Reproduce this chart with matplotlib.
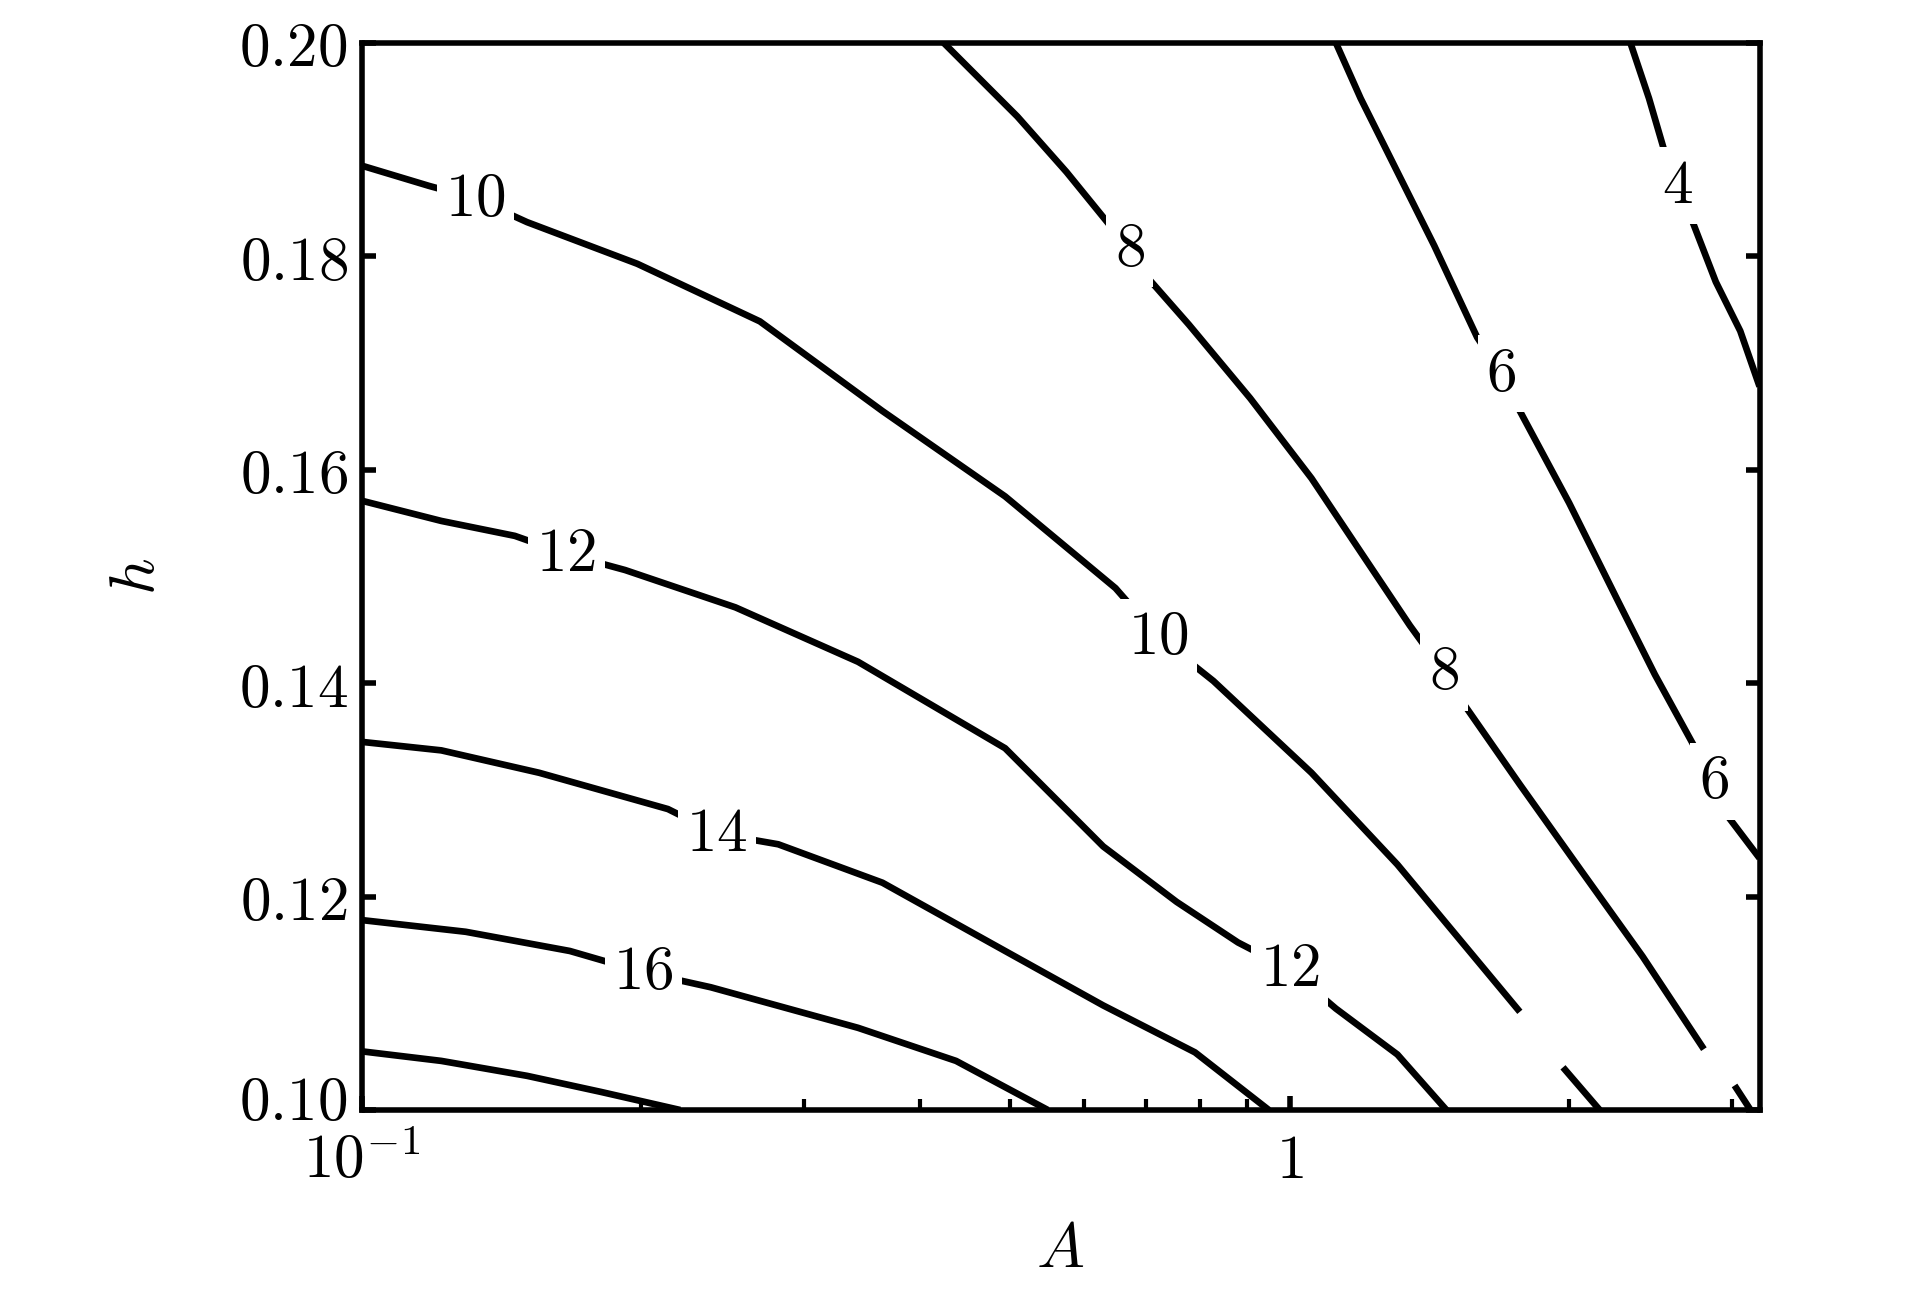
import numpy as np
import matplotlib.pyplot as plt
import matplotlib.transforms as mtransforms
from matplotlib.ticker import FixedLocator, NullFormatter

plt.rcParams['mathtext.fontset'] = 'cm'
plt.rcParams['font.family'] = 'serif'
plt.rcParams['font.serif'] = ['DejaVu Serif']

# contour paths: (A, h) pairs, NaN marks a break
levels = [4, 6, 8, 10, 12, 14, 16, 18]
paths = {
    4: ([2.33, 2.44, 2.55, 2.62, 2.70, 2.88, 3.06, 3.21],
        [0.200, 0.1948, 0.1891, 0.1866, 0.1839, 0.1776, 0.1730, 0.1678]),
    6: ([1.122, 1.193, 1.307, 1.432, 1.593, 1.692, 1.771, 2.001, 2.259, 2.476, 2.713, 2.865, 2.927, 3.21],
        [0.200, 0.1948, 0.1879, 0.1810, 0.1724, 0.1690, 0.1655, 0.1569, 0.1477, 0.1408, 0.1345, 0.1308, 0.1282, 0.1236]),
    8: ([0.424, 0.509, 0.575, 0.639, 0.673, 0.700, 0.779, 0.907, 1.056, 1.193, 1.348, 1.467, 1.545, 1.771, 2.063, 2.401, 2.796, np.nan, 3.017, 3.139],
        [0.200, 0.1931, 0.1879, 0.1830, 0.1807, 0.1782, 0.1736, 0.1667, 0.1592, 0.1523, 0.1454, 0.1410, 0.1379, 0.1305, 0.1224, 0.1144, 0.1057, np.nan, 0.1023, 0.100]),
    10: ([0.1, 0.1182, 0.1327, 0.1508, 0.1982, 0.2687, 0.3642, 0.4938, 0.6494, 0.7225, 0.828, 1.056, 1.307, 1.771, np.nan, 1.971, 2.159],
         [0.1885, 0.1866, 0.1854, 0.1832, 0.1793, 0.1739, 0.1655, 0.1575, 0.1489, 0.1443, 0.1402, 0.1316, 0.1230, 0.1092, np.nan, 0.1040, 0.100]),
    12: ([0.1, 0.1219, 0.1463, 0.1662, 0.1923, 0.2529, 0.3428, 0.4938, 0.6298, 0.7558, 0.880, 1.0, 1.122, 1.307, 1.476],
         [0.1571, 0.1552, 0.1538, 0.1521, 0.1506, 0.1471, 0.1420, 0.1339, 0.1247, 0.1195, 0.1157, 0.1132, 0.1095, 0.1052, 0.100]),
    14: ([0.1, 0.1219, 0.1554, 0.2139, 0.2416, 0.2812, 0.3642, 0.4938, 0.6298, 0.791, 0.950],
         [0.1345, 0.1337, 0.1316, 0.1282, 0.1259, 0.1249, 0.1213, 0.1149, 0.1098, 0.1054, 0.100]),
    16: ([0.1, 0.1295, 0.1677, 0.2013, 0.2379, 0.3428, 0.4372, 0.549],
         [0.1178, 0.1167, 0.1149, 0.1129, 0.1115, 0.1077, 0.1046, 0.100]),
    18: ([0.1, 0.1219, 0.1508, 0.181, 0.2205],
         [0.1055, 0.1046, 0.1032, 0.1017, 0.100]),
}

# inline labels: (level, A, h)
label_lv = [4, 6, 6, 8, 8, 10, 10, 12, 12, 14, 16]
label_A = [2.62, 1.692, 2.865, 0.673, 1.467, 0.1327, 0.7225, 0.1662, 1.0, 0.2416, 0.2013]
label_h = [0.1866, 0.1690, 0.1308, 0.1807, 0.1410, 0.1854, 0.1443, 0.1521, 0.1132, 0.1259, 0.1129]

fig = plt.figure(figsize=(19.23, 12.99), dpi=100)
ax = fig.add_axes([0.188, 0.1455, 0.727, 0.8215])

for lv in levels:
    xs, ys = paths[lv]
    ax.plot(xs, ys, color='black', lw=4.8, solid_capstyle='butt',
            solid_joinstyle='round', zorder=2)

for lv, a, h in zip(label_lv, label_A, label_h):
    ax.text(a, h, '$%d$' % lv, fontsize=44, ha='center', va='center', zorder=3,
            bbox=dict(facecolor='white', edgecolor='none', pad=6))

ax.set_xscale('log')
ax.set_xlim(0.1, 3.21)
ax.set_ylim(0.10, 0.20)

ax.xaxis.set_major_locator(FixedLocator([0.1, 1]))
ax.set_xticklabels([r'$10^{-1}$', r'$1$'])
ax.xaxis.set_minor_locator(FixedLocator([0.2, 0.3, 0.4, 0.5, 0.6, 0.7, 0.8, 0.9, 2, 3]))
ax.xaxis.set_minor_formatter(NullFormatter())
yt = [0.10, 0.12, 0.14, 0.16, 0.18, 0.20]
ax.set_yticks(yt)
ax.set_yticklabels(['$%.2f$' % v for v in yt])

ax.tick_params(axis='both', which='major', direction='in', length=10, width=4,
               labelsize=44, top=False, right=True, pad=10)
ax.tick_params(axis='x', which='minor', direction='in', length=8, width=3, top=False)
ax.tick_params(axis='x', which='major', pad=15)
for s in ax.spines.values():
    s.set_linewidth(4)

# nudge the lowest y label up a little, as in the original
lbl = ax.get_yticklabels()[0]
lbl.set_transform(lbl.get_transform() + mtransforms.ScaledTranslation(0, 10 / 72, fig.dpi_scale_trans))

ax.set_xlabel('$A$', fontsize=46, labelpad=20)
ax.set_ylabel('$h$', fontsize=46, labelpad=52)

fig.savefig('out.png', dpi=100)
